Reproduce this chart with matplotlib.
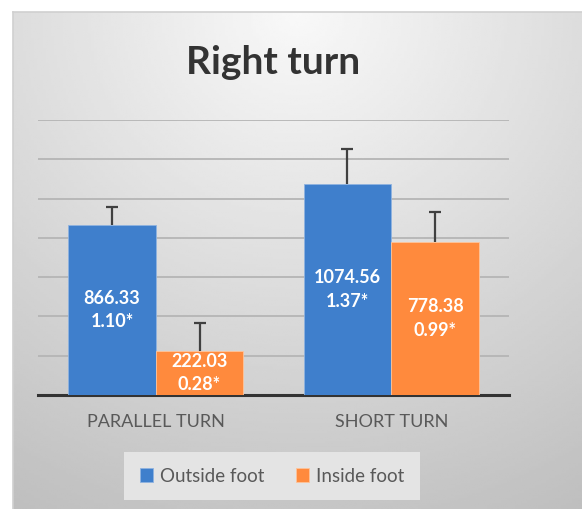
"""Right turn: outside vs inside foot bar chart with error bars."""

import matplotlib
matplotlib.use("Agg")
import matplotlib.pyplot as plt
import numpy as np

categories = ["PARALLEL TURN", "SHORT TURN"]
series_names = ["Outside foot", "Inside foot"]
outside_vals = [866.33, 1074.56]
inside_vals = [222.03, 778.38]
outside_err = [91, 177]
inside_err = [146, 153]
outside_ratio = ["1.10*", "1.37*"]
inside_ratio = ["0.28*", "0.99*"]

BLUE = "#3F7FCC"
ORANGE = "#FF8A3D"
FONT = "Lato"

plt.rcParams["font.family"] = [FONT, "DejaVu Sans"]

W, H = 582, 509
fig = plt.figure(figsize=(W / 100, H / 100), dpi=100, facecolor="white")

# ── Gradient chart-area background ───────────────────────────────────────────
bg = fig.add_axes([13 / W, 0, (W - 13) / W, (H - 12) / H])
yy, xx = np.mgrid[0:1:200j, 0:1:200j]
dist = np.sqrt(((xx - 0.5) * 1.1) ** 2 + (yy * 1.0) ** 2)
shade = np.clip(0.975 - 0.2 * dist, 0, 1)
bg.imshow(shade, cmap="gray", vmin=0, vmax=1, aspect="auto",
          extent=[0, 1, 1, 0], interpolation="bilinear")
bg.set_xlim(0, 1)
bg.set_ylim(1, 0)
for side, sp in bg.spines.items():
    sp.set_visible(side in ("top", "left"))
    sp.set_color("#d0d0d0")
    sp.set_linewidth(1.2)
bg.set_xticks([])
bg.set_yticks([])

# ── Main plot ────────────────────────────────────────────────────────────────
ax = fig.add_axes([38 / W, (H - 395) / H, 471 / W, 275 / H])
ax.patch.set_alpha(0)
x = np.arange(len(categories))
width = 0.372

bars_out = ax.bar(x - width / 2, outside_vals, width, color=BLUE,
                  edgecolor="#8fb3e0", linewidth=0.6, label=series_names[0], zorder=3)
bars_in = ax.bar(x + width / 2, inside_vals, width, color=ORANGE,
                 edgecolor="#ffc49a", linewidth=0.6, label=series_names[1], zorder=3)

for pos, vals, errs in [(x - width / 2, outside_vals, outside_err),
                        (x + width / 2, inside_vals, inside_err)]:
    _, caps, _ = ax.errorbar(pos, vals, yerr=[np.zeros(len(errs)), errs],
                             fmt="none", ecolor="#404040", elinewidth=1.6,
                             capsize=4, capthick=1.6, zorder=4)
    caps[0].set_visible(False)

for bars, vals, ratios in [(bars_out, outside_vals, outside_ratio),
                           (bars_in, inside_vals, inside_ratio)]:
    for b, v, r in zip(bars, vals, ratios):
        ax.text(b.get_x() + b.get_width() / 2, v / 2, f"{v:.2f}\n{r}",
                ha="center", va="center", color="white", fontsize=13,
                fontweight="bold", linespacing=1.45, zorder=5)

ax.set_ylim(0, 1400)
ax.set_xlim(-0.5, 1.5)
ax.set_yticks(np.arange(200, 1401, 200))
ax.yaxis.grid(True, color="#b5b5b5", linewidth=1.3, zorder=0)
ax.set_axisbelow(True)
ax.tick_params(axis="y", length=0, labelleft=False)
ax.set_xticks(x)
ax.set_xticklabels(categories, fontsize=13, color="#595959")
ax.tick_params(axis="x", length=0, pad=14)
for side in ("top", "right", "left"):
    ax.spines[side].set_visible(False)
ax.spines["bottom"].set_color("#333333")
ax.spines["bottom"].set_linewidth(2.2)

fig.text(273 / W, 1 - 63 / H, "Right turn", ha="center", va="center",
         fontsize=28, fontweight="bold", color="#333333")

leg = fig.legend(handles=[bars_out, bars_in], labels=series_names,
                 loc="center", bbox_to_anchor=(272 / W, 1 - 476 / H),
                 ncol=2, frameon=True, fontsize=13.5, handlelength=0.7,
                 handleheight=0.7, handletextpad=0.35, columnspacing=1.7,
                 borderpad=0.85, labelcolor="#595959")
leg.get_frame().set_facecolor("#e4e4e4")
leg.get_frame().set_edgecolor("none")
leg.get_frame().set_alpha(1)
leg.get_frame().set_boxstyle("square", pad=0)

fig.savefig("out.png", dpi=100)
